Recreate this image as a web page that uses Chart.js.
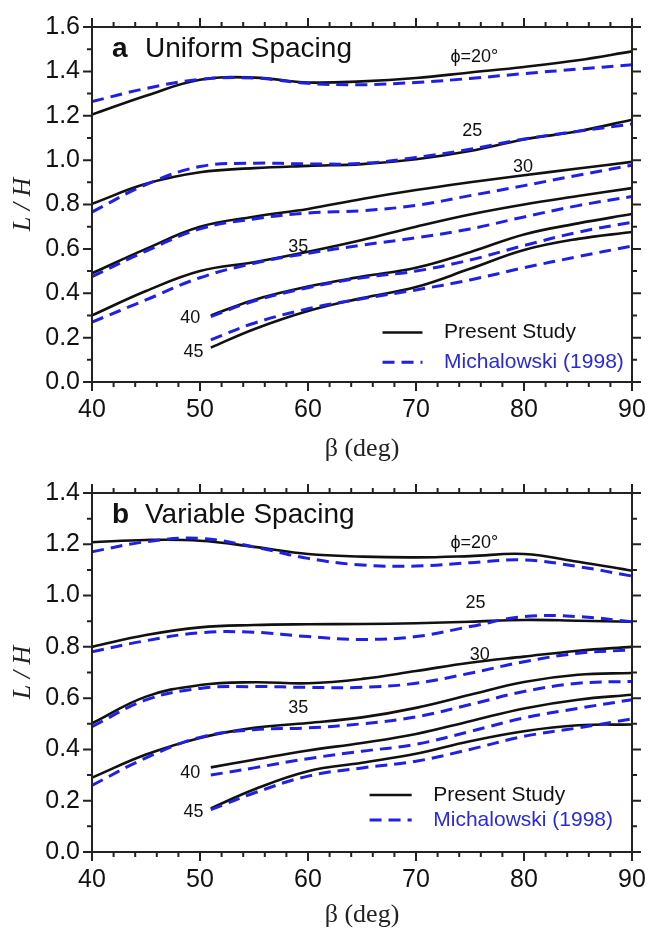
<!DOCTYPE html>
<html>
<head>
<meta charset="utf-8">
<script src="https://cdn.jsdelivr.net/npm/chart.js@4.4.1/dist/chart.umd.min.js"></script>
<style>
html, body { margin: 0; padding: 0; background: #fff; }
.box { position: absolute; left: 0; width: 661px; }
</style>
</head>
<body>
<div class="box" style="top:0;height:465px"><canvas id="chartA"></canvas></div>
<div class="box" style="top:465px;height:470px"><canvas id="chartB"></canvas></div>
<script>
// slope angle beta (deg)
var betaLong = [40, 45, 50, 55, 60, 65, 70, 75, 80, 85, 90];
var betaShort = [51, 55, 60, 65, 70, 75, 80, 85, 90];

// (a) uniform spacing, L/H - present study
var uniP20 = [1.205, 1.29, 1.362, 1.372, 1.35, 1.355, 1.37, 1.395, 1.42, 1.45, 1.49];
var uniP25 = [0.803, 0.893, 0.945, 0.964, 0.974, 0.982, 1.004, 1.041, 1.093, 1.13, 1.182];
var uniP30 = [0.49, 0.60, 0.70, 0.745, 0.78, 0.825, 0.865, 0.90, 0.932, 0.962, 0.992];
var uniP35 = [0.30, 0.41, 0.50, 0.54, 0.587, 0.64, 0.70, 0.755, 0.80, 0.838, 0.874];
var uniP40 = [0.30, 0.37, 0.43, 0.475, 0.515, 0.585, 0.665, 0.715, 0.757];
var uniP45 = [0.155, 0.238, 0.32, 0.378, 0.428, 0.51, 0.595, 0.645, 0.676];
// (a) uniform spacing - Michalowski (1998)
var uniM20 = [1.264, 1.323, 1.364, 1.37, 1.346, 1.34, 1.35, 1.368, 1.39, 1.41, 1.43];
var uniM25 = [0.766, 0.89, 0.971, 0.986, 0.983, 0.985, 1.012, 1.049, 1.095, 1.13, 1.163];
var uniM30 = [0.475, 0.59, 0.69, 0.735, 0.762, 0.772, 0.796, 0.84, 0.885, 0.932, 0.977];
var uniM35 = [0.27, 0.37, 0.47, 0.535, 0.58, 0.617, 0.65, 0.69, 0.744, 0.795, 0.836];
var uniM40 = [0.295, 0.365, 0.425, 0.47, 0.50, 0.55, 0.615, 0.675, 0.72];
var uniM45 = [0.19, 0.265, 0.33, 0.375, 0.415, 0.46, 0.515, 0.565, 0.613];

// (b) variable spacing - present study
var varP20 = [1.208, 1.217, 1.214, 1.19, 1.162, 1.152, 1.149, 1.154, 1.162, 1.132, 1.097];
var varP25 = [0.80, 0.846, 0.876, 0.885, 0.888, 0.889, 0.892, 0.898, 0.905, 0.902, 0.898];
var varP30 = [0.502, 0.606, 0.651, 0.662, 0.658, 0.675, 0.706, 0.738, 0.762, 0.785, 0.80];
var varP35 = [0.29, 0.38, 0.445, 0.484, 0.503, 0.525, 0.562, 0.613, 0.663, 0.691, 0.698];
var varP40 = [0.33, 0.36, 0.396, 0.425, 0.46, 0.51, 0.56, 0.594, 0.613];
var varP45 = [0.17, 0.244, 0.315, 0.348, 0.383, 0.432, 0.471, 0.494, 0.497];
// (b) variable spacing - Michalowski (1998)
var varM20 = [1.171, 1.21, 1.223, 1.19, 1.145, 1.119, 1.115, 1.128, 1.139, 1.113, 1.076];
var varM25 = [0.781, 0.824, 0.855, 0.857, 0.84, 0.829, 0.84, 0.879, 0.918, 0.918, 0.898];
var varM30 = [0.489, 0.593, 0.638, 0.645, 0.642, 0.642, 0.658, 0.697, 0.742, 0.775, 0.788];
var varM35 = [0.26, 0.367, 0.447, 0.477, 0.484, 0.50, 0.527, 0.575, 0.626, 0.658, 0.665];
var varM40 = [0.30, 0.328, 0.364, 0.393, 0.42, 0.47, 0.523, 0.56, 0.594];
var varM45 = [0.165, 0.23, 0.296, 0.328, 0.354, 0.40, 0.451, 0.484, 0.519];

var betaTicks = [40, 50, 60, 70, 80, 90];
var seriesNames = ['Present Study', 'Michalowski (1998)'];

var BLACK = '#111';
var BLUE = '#1f1fe6';
var SANS = "'Liberation Sans', Arial, sans-serif";
var SERIF = "'Liberation Serif', 'Times New Roman', serif";

function pts(xs, ys) {
    return xs.map(function(x, i) { return {x: x, y: ys[i]}; });
}

function curve(xs, ys, dashed) {
    return {
        data: pts(xs, ys),
        borderColor: dashed ? BLUE : BLACK,
        borderWidth: dashed ? 3 : 2.6,
        borderDash: dashed ? [12, 7] : [],
        pointRadius: 0,
        tension: 0.4,
        fill: false,
        order: dashed ? 0 : 1
    };
}

// frame, mirrored ticks, panel title, curve labels and legend
var decor = {
    id: 'decor',
    afterDraw: function(chart, args, o) {
        var ctx = chart.ctx, a = chart.chartArea;
        var xs = chart.scales.x, ys = chart.scales.y;
        ctx.save();
        ctx.strokeStyle = '#222';
        ctx.lineWidth = 2;
        ctx.strokeRect(a.left, a.top, a.right - a.left, a.bottom - a.top);
        ctx.beginPath();
        for (var b = xs.min; b <= xs.max + 0.001; b += 2) {
            var px = xs.getPixelForValue(b);
            var len = (b % 10 === 0) ? 9 : 5;
            ctx.moveTo(px, a.bottom); ctx.lineTo(px, a.bottom + len);
            ctx.moveTo(px, a.top); ctx.lineTo(px, a.top - len);
        }
        for (var k = 0; k <= Math.round(ys.max * 10); k++) {
            var py = ys.getPixelForValue(k / 10);
            var l2 = (k % 2 === 0) ? 9 : 5;
            ctx.moveTo(a.left, py); ctx.lineTo(a.left - l2, py);
            ctx.moveTo(a.right, py); ctx.lineTo(a.right + l2, py);
        }
        ctx.stroke();

        // panel title
        ctx.fillStyle = BLACK;
        ctx.textBaseline = 'alphabetic';
        ctx.textAlign = 'left';
        ctx.font = 'bold 28px ' + SANS;
        ctx.fillText(o.panel, a.left + 20, a.top + 30);
        ctx.font = '28px ' + SANS;
        ctx.fillText(o.name, a.left + 53, a.top + 30);

        // phi labels on the curves
        ctx.font = '18px ' + SANS;
        ctx.textAlign = 'center';
        o.labels.forEach(function(l) {
            ctx.fillText(l[0], xs.getPixelForValue(l[1]), ys.getPixelForValue(l[2]));
        });

        // legend
        var lg = o.legend;
        ctx.font = '21px ' + SANS;
        ctx.textAlign = 'left';
        ctx.textBaseline = 'middle';
        [0, 1].forEach(function(i) {
            var y = ys.getPixelForValue(lg.y[i]);
            ctx.beginPath();
            ctx.lineWidth = i ? 3 : 2.6;
            ctx.strokeStyle = i ? BLUE : BLACK;
            ctx.setLineDash(i ? [12, 7] : []);
            ctx.moveTo(xs.getPixelForValue(lg.x0), y);
            ctx.lineTo(xs.getPixelForValue(lg.x1), y);
            ctx.stroke();
            ctx.setLineDash([]);
            ctx.fillStyle = i ? '#2a2ad8' : BLACK;
            ctx.fillText(seriesNames[i], xs.getPixelForValue(lg.xt), y);
        });
        ctx.restore();
    }
};

function makeChart(id, sets, yMax, topPad, titlePadB, deco) {
    var ctx = document.getElementById(id).getContext('2d');
    return new Chart(ctx, {
        type: 'line',
        data: { datasets: sets },
        options: {
            responsive: true,
            maintainAspectRatio: false,
            animation: false,
            layout: { padding: { left: 0, top: topPad, right: 29, bottom: 0 } },
            plugins: {
                legend: { display: false },
                tooltip: { enabled: false },
                decor: deco
            },
            scales: {
                x: {
                    type: 'linear',
                    min: 40, max: 90,
                    afterBuildTicks: function(s) {
                        s.ticks = betaTicks.map(function(v) { return {value: v}; });
                    },
                    afterFit: function(s) { s.height = 83; },
                    grid: { display: false, drawTicks: false },
                    border: { display: false },
                    ticks: { padding: 13, color: BLACK, font: { family: SANS, size: 25 } },
                    title: {
                        display: true, text: 'β (deg)', color: '#222',
                        padding: { top: 0, bottom: titlePadB },
                        font: { family: SERIF, size: 26 }
                    }
                },
                y: {
                    min: 0, max: yMax,
                    afterFit: function(s) { s.width = 92; },
                    grid: { display: false, drawTicks: false },
                    border: { display: false },
                    ticks: {
                        stepSize: 0.2, padding: 12, color: BLACK,
                        font: { family: SANS, size: 25 },
                        callback: function(v) { return v.toFixed(1); }
                    },
                    title: {
                        display: true, text: 'L / H', color: '#222',
                        padding: { top: 8, bottom: 0 },
                        font: { family: SERIF, size: 26, style: 'italic' }
                    }
                }
            }
        },
        plugins: [decor]
    });
}

var chartA = makeChart('chartA', [
    curve(betaLong, uniP20), curve(betaLong, uniP25), curve(betaLong, uniP30),
    curve(betaLong, uniP35), curve(betaShort, uniP40), curve(betaShort, uniP45),
    curve(betaLong, uniM20, true), curve(betaLong, uniM25, true), curve(betaLong, uniM30, true),
    curve(betaLong, uniM35, true), curve(betaShort, uniM40, true), curve(betaShort, uniM45, true)
], 1.6, 23, 0, {
    panel: 'a', name: 'Uniform Spacing',
    labels: [['ϕ=20°', 75.4, 1.444], ['25', 75.2, 1.11], ['30', 79.9, 0.945],
             ['35', 59.1, 0.588], ['40', 49.1, 0.267], ['45', 49.4, 0.111]],
    legend: { x0: 66.9, x1: 70.6, xt: 72.6, y: [0.223, 0.089] }
});

var chartB = makeChart('chartB', [
    curve(betaLong, varP20), curve(betaLong, varP25), curve(betaLong, varP30),
    curve(betaLong, varP35), curve(betaShort, varP40), curve(betaShort, varP45),
    curve(betaLong, varM20, true), curve(betaLong, varM25, true), curve(betaLong, varM30, true),
    curve(betaLong, varM35, true), curve(betaShort, varM40, true), curve(betaShort, varM45, true)
], 1.4, 28, 4, {
    panel: 'b', name: 'Variable Spacing',
    labels: [['ϕ=20°', 75.4, 1.186], ['25', 75.5, 0.952], ['30', 75.9, 0.749],
             ['35', 59.1, 0.542], ['40', 49.1, 0.289], ['45', 49.4, 0.137]],
    legend: { x0: 65.7, x1: 69.6, xt: 71.6, y: [0.222, 0.125] }
});
</script>
</body>
</html>
